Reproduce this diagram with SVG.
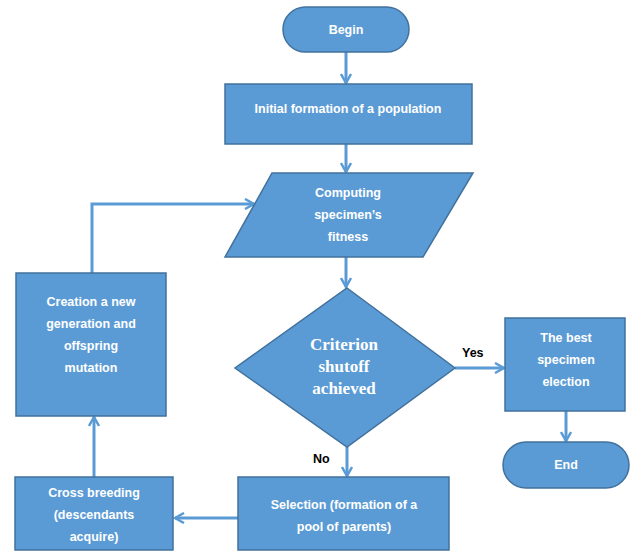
<svg xmlns="http://www.w3.org/2000/svg" width="634" height="553" viewBox="0 0 634 553">
<style>
.n{fill:#5b9bd5;stroke:#41719c;stroke-width:1.5}
.t{font-family:"Liberation Sans",Arial,sans-serif;font-weight:bold;font-size:12.5px;fill:#ffffff;text-anchor:middle}
.s{font-family:"Liberation Serif","Times New Roman",serif;font-weight:bold;font-size:17px;fill:#ffffff;text-anchor:middle}
.c{fill:none;stroke:#5b9bd5;stroke-width:3}
.l{font-family:"Liberation Sans",Arial,sans-serif;font-weight:bold;font-size:12.5px;fill:#000000}
</style>
<defs>
<marker id="a" viewBox="0 0 12 12" refX="10" refY="6" markerWidth="12" markerHeight="12" markerUnits="userSpaceOnUse" orient="auto">
<path d="M1,1 L10,6 L1,11" fill="none" stroke="#5b9bd5" stroke-width="2.5"/>
</marker>
</defs>
<rect width="634" height="553" fill="#ffffff"/>
<g id="connectors">
<line class="c" x1="346" y1="52" x2="346" y2="83" marker-end="url(#a)"/>
<line class="c" x1="346" y1="144" x2="346" y2="172" marker-end="url(#a)"/>
<line class="c" x1="346" y1="257" x2="346" y2="287" marker-end="url(#a)"/>
<line class="c" x1="455" y1="368" x2="504" y2="368" marker-end="url(#a)"/>
<line class="c" x1="566" y1="411" x2="566" y2="441" marker-end="url(#a)"/>
<line class="c" x1="347" y1="447" x2="347" y2="476" marker-end="url(#a)"/>
<line class="c" x1="238" y1="518" x2="175" y2="518" marker-end="url(#a)"/>
<line class="c" x1="94" y1="477" x2="94" y2="417" marker-end="url(#a)"/>
<polyline class="c" points="92,273 92,204 254,204" marker-end="url(#a)"/>
<text class="l" x="462" y="357">Yes</text>
<text class="l" x="313" y="463">No</text>
</g>
<g id="begin">
<rect class="n" x="283" y="7" width="126" height="45" rx="22.5"/>
<text class="t" x="346" y="34">Begin</text>
</g>
<g id="initial">
<rect class="n" x="225" y="84" width="247" height="60"/>
<text class="t" x="348" y="113">Initial formation of a population</text>
</g>
<g id="fitness">
<polygon class="n" points="272,173 473,173 423,257 225,257"/>
<text class="t" x="348" y="197">Computing</text>
<text class="t" x="348" y="219">specimen’s</text>
<text class="t" x="348" y="241">fitness</text>
</g>
<g id="criterion">
<polygon class="n" points="347,288 455,368 347,447 235,368"/>
<text class="s" x="344" y="350">Criterion</text>
<text class="s" x="344" y="372">shutoff</text>
<text class="s" x="344" y="394">achieved</text>
</g>
<g id="best">
<rect class="n" x="505" y="318" width="120" height="93"/>
<text class="t" x="566" y="342">The best</text>
<text class="t" x="566" y="364">specimen</text>
<text class="t" x="566" y="386">election</text>
</g>
<g id="end">
<rect class="n" x="503" y="442" width="126" height="46" rx="23"/>
<text class="t" x="566" y="469">End</text>
</g>
<g id="selection">
<rect class="n" x="238" y="477" width="211" height="73"/>
<text class="t" x="344" y="509">Selection (formation of a</text>
<text class="t" x="344" y="531">pool of parents)</text>
</g>
<g id="cross">
<rect class="n" x="15" y="477" width="158" height="73"/>
<text class="t" x="94" y="497">Cross breeding</text>
<text class="t" x="94" y="519">(descendants</text>
<text class="t" x="94" y="541">acquire)</text>
</g>
<g id="creation">
<rect class="n" x="16" y="273" width="150" height="143"/>
<text class="t" x="91" y="306">Creation a new</text>
<text class="t" x="91" y="328">generation and</text>
<text class="t" x="91" y="350">offspring</text>
<text class="t" x="91" y="372">mutation</text>
</g>
</svg>
